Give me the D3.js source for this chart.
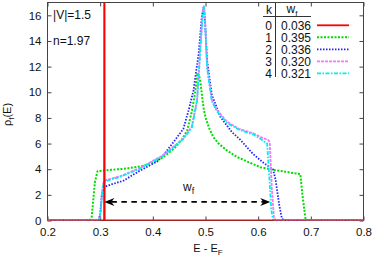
<!DOCTYPE html>
<html><head><meta charset="utf-8">
<script src="https://cdn.jsdelivr.net/npm/d3@7"></script>
<style>
html,body{margin:0;padding:0;background:#fff;}
svg{display:block;font-family:"Liberation Sans",Arial,sans-serif;}
</style></head>
<body>
<svg id="chart" width="374" height="258"></svg>
<script>
// ---------- data ----------
const xTicks = [0.2,0.3,0.4,0.5,0.6,0.7,0.8];
const yTicks = [0,2,4,6,8,10,12,14,16];
const kLabels = ["0","1","2","3","4"];
const wfLabels = ["0.036","0.395","0.336","0.320","0.321"];

const E0 = [0.2,0.3075,0.308,0.3085,0.8];
const rho0 = [0,0,40,0,0];

const E1 = [0.2,0.28,0.284,0.29,0.295,0.32,0.35,0.38,0.40,0.42,0.44,0.455,0.465,0.474,0.48,0.485,0.488,0.491,0.494,0.497,0.501,0.508,0.515,0.525,0.541,0.56,0.579,0.604,0.629,0.655,0.68,0.684,0.69,0.695,0.8];
const rho1 = [0,0,0.3,3.0,3.85,3.95,4.05,4.25,4.5,4.95,5.6,6.3,7.0,8.5,9.9,11.5,11.3,10.6,9.5,8.6,7.9,7.1,6.5,6.0,5.45,4.95,4.6,4.16,3.95,3.78,3.62,2.0,0.1,0,0];

const E2 = [0.2,0.297,0.300,0.303,0.307,0.32,0.344,0.376,0.408,0.42,0.439,0.458,0.468,0.477,0.487,0.493,0.496,0.499,0.503,0.512,0.528,0.55,0.566,0.59,0.61,0.628,0.633,0.64,0.645,0.65,0.8];
const rho2 = [0,0,0.5,2.0,2.6,2.8,3.1,3.9,4.6,5.1,6.1,7.15,8.6,10.1,13.0,15.9,16.6,15.5,12.5,9.8,8.1,6.9,6.3,5.2,4.5,4.0,3.2,1.2,0.15,0,0];

const E3 = [0.2,0.298,0.301,0.304,0.307,0.32,0.338,0.376,0.42,0.458,0.474,0.484,0.49,0.495,0.497,0.499,0.503,0.512,0.522,0.541,0.563,0.591,0.605,0.62,0.622,0.626,0.63,0.634,0.8];
const rho3 = [0,0,0.8,2.4,3.1,3.25,3.45,4.1,5.1,6.4,7.3,9.4,13.3,16.4,16.7,15.9,12.0,9.4,8.6,7.7,7.15,6.8,6.5,6.25,6.05,2.5,0.2,0,0];

const E4 = [0.2,0.298,0.301,0.304,0.307,0.32,0.338,0.376,0.42,0.458,0.474,0.484,0.49,0.495,0.497,0.499,0.503,0.512,0.522,0.541,0.563,0.591,0.605,0.617,0.621,0.625,0.628,0.632,0.8];
const rho4 = [0,0,0.7,2.3,3.0,3.2,3.4,4.05,5.05,6.35,7.25,9.3,13.2,16.3,16.7,15.8,11.9,9.3,8.5,7.6,7.1,6.7,6.35,6.0,3.5,0.8,0.1,0,0];

const arrowE = [0.308, 0.623];
const arrowRho = 1.45;

// ---------- layout ----------
const m = {left:47.5, right:363.5, top:2.5, bottom:220.5};
const svg = d3.select("#chart");
const x = d3.scaleLinear().domain([0.2,0.8]).range([m.left, m.right]);
const y = d3.scaleLinear().domain([0,17]).range([m.bottom, m.top]);

svg.append("defs").append("clipPath").attr("id","clip")
  .append("rect").attr("x",m.left).attr("y",m.top)
  .attr("width",m.right-m.left).attr("height",m.bottom-m.top);

const axisColor = "#444";
const fs = 11.5;

const gx = svg.append("g").attr("transform",`translate(0,${m.bottom})`)
  .call(d3.axisBottom(x).tickValues(xTicks).tickFormat(d3.format(".1f")).tickSizeInner(-4).tickSizeOuter(0).tickPadding(7));
const gxt = svg.append("g").attr("transform",`translate(0,${m.top})`)
  .call(d3.axisTop(x).tickValues(xTicks).tickFormat("").tickSizeInner(-4).tickSizeOuter(0));
const gy = svg.append("g").attr("transform",`translate(${m.left},0)`)
  .call(d3.axisLeft(y).tickValues(yTicks).tickFormat(d3.format("d")).tickSizeInner(-4).tickSizeOuter(0).tickPadding(6));
const gyr = svg.append("g").attr("transform",`translate(${m.right},0)`)
  .call(d3.axisRight(y).tickValues(yTicks).tickFormat("").tickSizeInner(-4).tickSizeOuter(0));
[gx,gxt,gy,gyr].forEach(g=>{
  g.select(".domain").remove();
  g.selectAll(".tick line").attr("stroke",axisColor);
  g.selectAll(".tick text").attr("fill","#111").style("font-size",fs+"px").style("font-family","Liberation Sans, Arial, sans-serif");
});

svg.append("rect").attr("x",m.left).attr("y",m.top)
  .attr("width",m.right-m.left).attr("height",m.bottom-m.top)
  .attr("fill","none").attr("stroke",axisColor).attr("stroke-width",1);

const yl = svg.append("text").attr("transform",`translate(11,${(m.top+m.bottom)/2+3}) rotate(-90)`)
  .attr("text-anchor","middle").style("font-size","11px").attr("fill","#111");
yl.append("tspan").text("ρ");
yl.append("tspan").attr("dy",3).style("font-size","8px").text("f");
yl.append("tspan").attr("dy",-3).text("(E)");

const xl = svg.append("text").attr("x",208).attr("y",252)
  .attr("text-anchor","middle").style("font-size","11px").attr("fill","#111");
xl.append("tspan").text("E - E");
xl.append("tspan").attr("dy",3).style("font-size","8px").text("F");

svg.append("text").attr("x",x(0.2105)).attr("y",19).style("font-size","12px").attr("fill","#111").text("|V|=1.5");
svg.append("text").attr("x",x(0.2105)).attr("y",45).style("font-size","12px").attr("fill","#111").text("n=1.97");

const series = [
  {E:E0, r:rho0, color:"#ff0000", dash:null, w:1.8},
  {E:E1, r:rho1, color:"#00dd00", dash:"2,1.5", w:2},
  {E:E2, r:rho2, color:"#2020ff", dash:"1.5,1.5", w:1.8},
  {E:E3, r:rho3, color:"#ff70ff", dash:"3,1", w:1.8},
  {E:E4, r:rho4, color:"#00eeee", dash:"4,1.5,1.5,1.5", w:1.8}
];
const line = d3.line().x(d=>x(d[0])).y(d=>y(d[1]));
const plot = svg.append("g").attr("clip-path","url(#clip)");
[1,2,3,4,0].forEach(i=>{
  const s = series[i];
  plot.append("path").datum(s.E.map((e,j)=>[e,s.r[j]]))
    .attr("d",line).attr("fill","none").attr("stroke",s.color)
    .attr("stroke-width",s.w).attr("stroke-dasharray",s.dash)
    .attr("stroke-linejoin","round");
});

const ay = y(arrowRho), ax1 = x(arrowE[0]), ax2 = x(arrowE[1]);
const L = 10, hw = 4, notch = 3;
svg.append("line").attr("x1",ax1+L-notch).attr("x2",ax2-L+notch).attr("y1",ay).attr("y2",ay)
  .attr("stroke","#000").attr("stroke-width",1.6).attr("stroke-dasharray","5.5,4.5");
svg.append("path").attr("d",`M${ax1},${ay} L${ax1+L},${ay-hw} L${ax1+L-notch},${ay} L${ax1+L},${ay+hw} Z`).attr("fill","#000");
svg.append("path").attr("d",`M${ax2},${ay} L${ax2-L},${ay-hw} L${ax2-L+notch},${ay} L${ax2-L},${ay+hw} Z`).attr("fill","#000");
const wl = svg.append("text").attr("x",x(0.468)).attr("y",y(2.3)).attr("text-anchor","middle").style("font-size","12px").attr("fill","#111");
wl.append("tspan").text("w");
wl.append("tspan").attr("dy",3).style("font-size","9px").text("f");

const lg = svg.append("g");
lg.append("text").attr("x",269).attr("y",14).attr("text-anchor","middle").style("font-size","12px").attr("fill","#111").text("k");
const wh = lg.append("text").attr("x",292).attr("y",13).attr("text-anchor","middle").style("font-size","12px").attr("fill","#111");
wh.append("tspan").text("w");
wh.append("tspan").attr("dy",3).style("font-size","8px").text("f");
lg.append("line").attr("x1",263).attr("x2",311).attr("y1",16.5).attr("y2",16.5).attr("stroke","#333").attr("stroke-width",1);
lg.append("line").attr("x1",275.5).attr("x2",275.5).attr("y1",3).attr("y2",77).attr("stroke","#333").attr("stroke-width",1);
kLabels.forEach((k,i)=>{
  const cy = 25.3 + i*12;
  lg.append("text").attr("x",268.5).attr("y",cy+4.2).attr("text-anchor","middle").style("font-size","12px").attr("fill","#111").text(k);
  lg.append("text").attr("x",311).attr("y",cy+4.2).attr("text-anchor","end").style("font-size","12px").attr("fill","#111").text(wfLabels[i]);
  const s = series[i];
  lg.append("line").attr("x1",317).attr("x2",349).attr("y1",cy).attr("y2",cy)
    .attr("stroke",s.color).attr("stroke-width",s.w).attr("stroke-dasharray",s.dash);
});
</script>
</body></html>
